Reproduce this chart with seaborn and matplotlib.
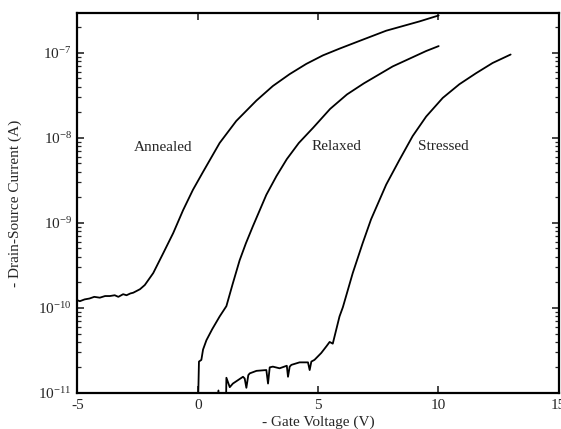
import matplotlib
matplotlib.use("Agg")
import matplotlib.pyplot as plt
import matplotlib.ticker as mticker
import seaborn as sns
import pandas as pd

# Gate voltage (V) and drain-source current (A)
annealed_v = [-5, -4.9, -4.7, -4.5, -4.3, -4.07, -3.85, -3.65, -3.45, -3.3, -3.1, -2.96,
              -2.8, -2.68, -2.4, -2.2, -1.85, -1.44, -1.02, -0.61, -0.2, 0.22, 0.91, 1.6,
              2.44, 3.12, 3.82, 4.51, 5.2, 5.89, 6.72, 7.83, 9.21, 10.01]
annealed_i = [1.23e-10, 1.20e-10, 1.26e-10, 1.29e-10, 1.35e-10, 1.32e-10, 1.38e-10, 1.38e-10,
              1.41e-10, 1.35e-10, 1.45e-10, 1.41e-10, 1.48e-10, 1.51e-10, 1.66e-10, 1.86e-10,
              2.57e-10, 4.37e-10, 7.59e-10, 1.41e-9, 2.45e-9, 3.98e-9, 8.71e-9, 1.58e-8,
              2.75e-8, 4.07e-8, 5.62e-8, 7.41e-8, 9.33e-8, 1.12e-7, 1.38e-7, 1.82e-7,
              2.34e-7, 2.75e-7]

relaxed_v = [0.0, 0.05, 0.15, 0.22, 0.36, 0.6, 0.91, 1.19, 1.45, 1.74, 2.0, 2.29, 2.85,
             3.27, 3.7, 4.2, 4.8, 5.5, 6.2, 6.9, 8.1, 9.49, 10.01]
relaxed_i = [5.0e-12, 2.34e-11, 2.45e-11, 3.24e-11, 4.17e-11, 5.62e-11, 7.94e-11, 1.05e-10,
             1.91e-10, 3.63e-10, 5.75e-10, 9.12e-10, 2.14e-9, 3.55e-9, 5.62e-9, 8.71e-9,
             1.32e-8, 2.19e-8, 3.24e-8, 4.37e-8, 6.92e-8, 1.05e-7, 1.20e-7]

stressed_v = [0.75, 0.86, 0.9, 1.17, 1.19, 1.33, 1.46, 1.88, 1.95, 2.02, 2.1, 2.16, 2.44,
              2.85, 2.92, 2.99, 3.12, 3.4, 3.7, 3.75, 3.82, 3.89, 4.23, 4.58, 4.65, 4.72,
              4.85, 5.13, 5.35, 5.48, 5.61, 5.89, 6.03, 6.44, 6.85, 7.2, 7.83, 8.38, 8.93,
              9.49, 10.18, 10.87, 11.56, 12.25, 13.0]
stressed_i = [6.3e-12, 1.07e-11, 6.3e-12, 6.3e-12, 1.51e-11, 1.17e-11, 1.29e-11, 1.55e-11,
              1.48e-11, 1.15e-11, 1.62e-11, 1.70e-11, 1.82e-11, 1.86e-11, 1.29e-11, 2.0e-11,
              2.04e-11, 1.95e-11, 2.09e-11, 1.55e-11, 2.04e-11, 2.14e-11, 2.29e-11, 2.29e-11,
              1.86e-11, 2.34e-11, 2.45e-11, 2.95e-11, 3.55e-11, 3.98e-11, 3.80e-11, 7.94e-11,
              1.02e-10, 2.57e-10, 5.75e-10, 1.10e-9, 2.82e-9, 5.50e-9, 1.05e-8, 1.78e-8,
              2.95e-8, 4.27e-8, 5.75e-8, 7.59e-8, 9.55e-8]

curve_labels = ["Annealed", "Relaxed", "Stressed"]
label_pos_v = [-1.45, 5.75, 10.2]
label_pos_i = [7.6e-9, 7.9e-9, 7.9e-9]

x_ticks = [-5, 0, 5, 10, 15]

sns.set_style("ticks")
plt.rcParams["font.family"] = ["Liberation Serif", "DejaVu Serif"]
plt.rcParams["mathtext.fontset"] = "custom"
plt.rcParams["mathtext.rm"] = "Liberation Serif"
plt.rcParams["mathtext.it"] = "Liberation Serif:italic"
plt.rcParams["mathtext.bf"] = "Liberation Serif:bold"

fig = plt.figure(figsize=(5.61, 4.29), dpi=100)
ax = fig.add_axes([0.138, 0.084, 0.858, 0.886])

series = [(annealed_v, annealed_i), (relaxed_v, relaxed_i), (stressed_v, stressed_i)]
for name, (v, i) in zip(curve_labels, series):
    df = pd.DataFrame({"v": v, "i": i})
    sns.lineplot(data=df, x="v", y="i", ax=ax, color="black", linewidth=1.3,
                 estimator=None, sort=False)

ax.set_yscale("log")
ax.set_xlim(-5, 15)
ax.set_ylim(1e-11, 2.95e-7)
ax.set_xticks(x_ticks)
ax.set_xticklabels([str(t) for t in x_ticks])
ax.yaxis.set_major_locator(mticker.LogLocator(base=10, numticks=10))
ax.yaxis.set_minor_locator(mticker.LogLocator(base=10, subs=range(2, 10), numticks=20))
ax.yaxis.set_major_formatter(mticker.LogFormatterMathtext())

for name, lx, ly in zip(curve_labels, label_pos_v, label_pos_i):
    ax.text(lx, ly, name, fontsize=11, ha="center", va="center")

ax.set_xlabel("- Gate Voltage (V)", fontsize=11, labelpad=3)
ax.set_ylabel("- Drain-Source Current (A)", fontsize=11, labelpad=12)

ax.tick_params(axis="both", which="both", direction="in", top=True, right=True,
               labelsize=11, pad=4)
ax.tick_params(axis="both", which="major", length=5, width=1.2)
ax.tick_params(axis="both", which="minor", length=3, width=0.9)
ax.tick_params(axis="x", which="minor", bottom=False, top=False)
for sp in ax.spines.values():
    sp.set_linewidth(1.6)
    sp.set_color("black")

fig.savefig("out.png", dpi=100)
